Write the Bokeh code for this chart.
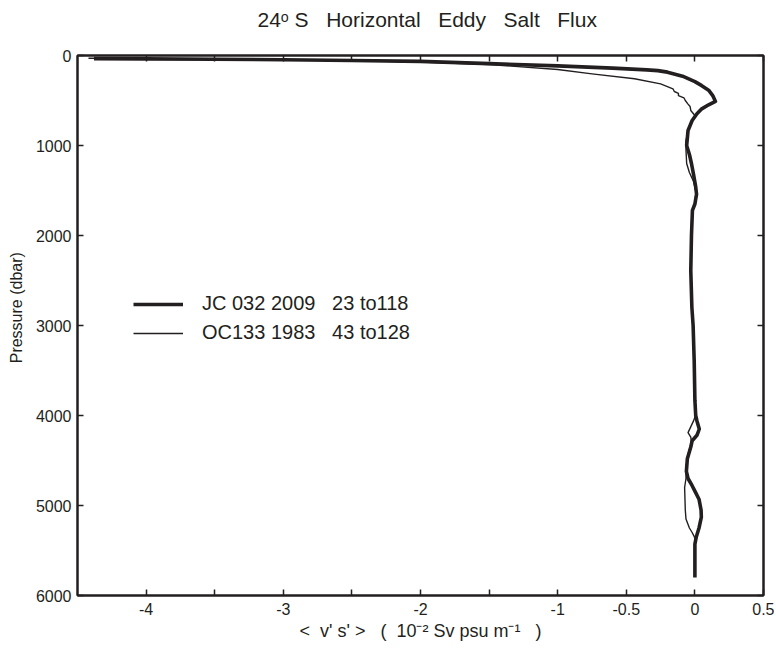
from bokeh.plotting import figure
from bokeh.models import Range1d, LinearAxis, FixedTicker, Legend, LegendItem, Title
from bokeh.embed import file_html
from bokeh.resources import INLINE

# ---- data ----
jc_flux = [-4.38, -4.0, -3.5, -3.0, -2.5, -2.0, -1.5, -1.0, -0.6, -0.35, -0.27, -0.2, -0.09, 0.0,
           0.05, 0.1, 0.13, 0.15, 0.1, 0.05, 0.015, -0.02, -0.05, -0.06, -0.04, -0.025, -0.01,
           0.005, 0.012, 0.0, -0.018, -0.025, -0.03, -0.022, -0.013, -0.005, 0.0, 0.006, 0.015,
           0.032, 0.015, -0.02, -0.03, -0.055, -0.062, -0.05, -0.02, 0.0, 0.03, 0.045, 0.047,
           0.03, 0.01, 0.0, 0.0, 0.0]
jc_pres = [35, 38, 42, 47, 55, 65, 90, 115, 140, 160, 168, 185, 230, 290,
           335, 385, 445, 510, 548, 593, 648, 722, 833, 1000, 1100, 1200, 1320,
           1450, 1540, 1650, 1720, 2000, 2390, 2800, 3000, 3400, 3830, 4000, 4060,
           4150, 4220, 4280, 4350, 4480, 4620, 4700, 4780, 4840, 4930, 5050, 5130,
           5250, 5350, 5430, 5600, 5800]

oc_flux = [-4.42, -4.0, -3.5, -3.0, -2.5, -2.0, -1.5, -1.0, -0.75, -0.44, -0.25, -0.16, -0.15,
           -0.12, -0.12, -0.08, -0.07, -0.05, -0.035, -0.03, 0.0, -0.02, -0.045, -0.065, -0.065,
           -0.06, -0.04, -0.01, 0.008, 0.0, -0.02, -0.028, -0.03, -0.02, -0.012, -0.004, 0.0,
           0.004, -0.01, -0.05, -0.03, -0.025, -0.045, -0.062, -0.065, -0.075, -0.072, -0.07,
           -0.065, -0.04, -0.02, 0.0, 0.0]
oc_pres = [30, 35, 40, 46, 55, 72, 100, 155, 204, 259, 315, 370, 400,
           420, 445, 470, 500, 540, 567, 611, 667, 722, 800, 950, 1050,
           1200, 1300, 1400, 1520, 1640, 1740, 2000, 2400, 2800, 3000, 3400, 3830,
           4000, 4060, 4190, 4240, 4300, 4400, 4550, 4700, 4800, 4950, 5050,
           5150, 5250, 5300, 5360, 5450]

x_ticks = [-4.0, -3.5, -3.0, -2.5, -2.0, -1.5, -1.0, -0.5, 0.0, 0.5]
x_tick_labels = ["-4", "", "-3", "", "-2", "", "-1", "-0.5", "0", "0.5"]
y_ticks = [0, 1000, 2000, 3000, 4000, 5000, 6000]
y_tick_labels = ["0", "1000", "2000", "3000", "4000", "5000", "6000"]

series_names = ["JC 032 2009   23 to118", "OC133 1983   43 to128"]

NB = "\u00a0"
title_text = "24ᵒ S" + NB * 3 + "Horizontal" + NB * 3 + "Eddy" + NB * 3 + "Salt" + NB * 3 + "Flux"
x_label = ("<" + NB * 2 + "v' s'" + NB + ">" + NB * 3 + "(" + NB * 2 + "10⁻²" + NB
           + "Sv psu m⁻¹" + NB * 3 + ")")
y_label = NB * 8 + "Pressure (dbar)"

INK = "#231f20"
FONT = "Liberation Sans"

p = figure(width=774, height=646, output_backend="svg", toolbar_location=None,
           x_range=Range1d(-4.5, 0.5), y_range=Range1d(6000, 0),
           min_border_left=77, min_border_right=11, min_border_top=55, min_border_bottom=51,
           x_axis_label=x_label, y_axis_label=y_label)

p.title.text = ""

p.xgrid.visible = False
p.ygrid.visible = False
p.outline_line_color = INK
p.outline_line_width = 2
p.background_fill_color = "white"
p.border_fill_color = "white"

r1 = p.line(jc_flux, jc_pres, line_color=INK, line_width=3.6, line_join="round")
r2 = p.line(oc_flux, oc_pres, line_color=INK, line_width=1.4, line_join="round")


def style_axis(ax, ticks, labels):
    ax.ticker = FixedTicker(ticks=ticks)
    ax.major_label_overrides = {t: l for t, l in zip(ticks, labels)}
    ax.axis_line_color = INK
    ax.axis_line_width = 2
    ax.major_tick_in = 6
    ax.major_tick_out = 0
    ax.major_tick_line_color = INK
    ax.major_tick_line_width = 1.5
    ax.minor_tick_line_color = None
    ax.major_label_text_font = FONT
    ax.major_label_text_font_size = "16px"
    ax.major_label_text_color = INK
    ax.axis_label_text_font = FONT
    ax.axis_label_text_font_size = "16px"
    ax.axis_label_text_font_style = "normal"
    ax.axis_label_text_color = INK


xa = p.xaxis[0]
style_axis(xa, x_ticks, x_tick_labels)
xa.major_label_standoff = 7
xa.axis_label_standoff = 3
xa.axis_label_text_font_size = "18px"

ya = p.yaxis[0]
style_axis(ya, y_ticks, y_tick_labels)
ya.major_label_standoff = 6
ya.axis_label_standoff = 8

top = LinearAxis()
style_axis(top, x_ticks, [""] * len(x_ticks))
top.major_label_standoff = 0
p.add_layout(top, "above")

# invisible spacer between the frame's top axis and the title
spacer = LinearAxis()
style_axis(spacer, x_ticks, [""] * len(x_ticks))
spacer.axis_line_color = None
spacer.major_tick_in = 0
spacer.major_tick_out = 20
spacer.major_tick_line_alpha = 0
spacer.major_label_standoff = 0
p.add_layout(spacer, "above")

title = Title(text=title_text, align="left", offset=180, standoff=10,
              text_font=FONT, text_font_size="21px", text_font_style="normal",
              text_color=INK)
p.add_layout(title, "above")

right = LinearAxis()
style_axis(right, y_ticks, [""] * len(y_ticks))
right.major_label_standoff = 0
p.add_layout(right, "right")

legend = Legend(items=[LegendItem(label=series_names[0], renderers=[r1]),
                       LegendItem(label=series_names[1], renderers=[r2])],
                location=(56, 251), margin=0, padding=0, spacing=6,
                glyph_width=50, glyph_height=22, label_height=22, label_standoff=19,
                label_text_font=FONT, label_text_font_size="20px", label_text_color=INK,
                border_line_color=None, background_fill_alpha=0)
p.add_layout(legend, "center")

open("out.html", "w").write(file_html(p, INLINE))
